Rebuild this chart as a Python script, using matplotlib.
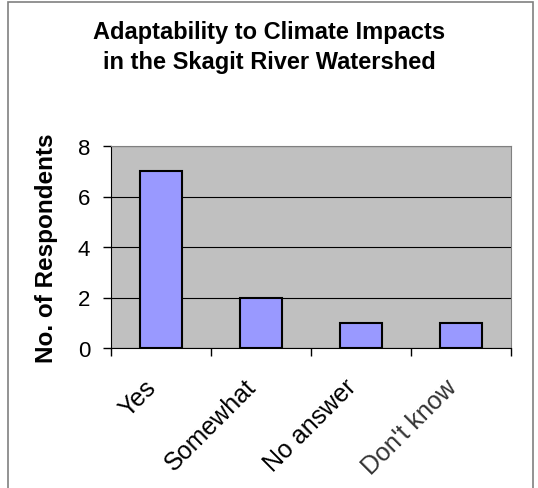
import matplotlib.pyplot as plt
import numpy as np

# survey responses
answers = ['Yes', 'Somewhat', 'No answer', "Don't know"]
respondents = [7, 2, 1, 1]
yticks = [0, 2, 4, 6, 8]

plt.rcParams['font.family'] = ['Liberation Sans', 'DejaVu Sans']

fig = plt.figure(figsize=(5.38, 4.89), dpi=100)

# outer chart frame
frame = plt.Rectangle((8 / 538, -0.01), 525 / 538, 1 - 3 / 489 + 0.01,
                      transform=fig.transFigure, fill=False,
                      edgecolor='#808080', linewidth=1.2)
fig.patches.append(frame)

ax = fig.add_axes([111 / 538, 1 - 349 / 489, 400 / 538, 202 / 489])
ax.set_facecolor('#C0C0C0')

x = np.arange(len(answers))
ax.bar(x, respondents, width=0.42, color='#9999FF', edgecolor='black',
       linewidth=1.5, zorder=3)

ax.set_xlim(-0.5, len(answers) - 0.5)
ax.set_ylim(0, 8)
ax.set_yticks(yticks)
ax.set_yticklabels([str(t) for t in yticks], fontsize=16)
ax.yaxis.grid(True, color='black', linewidth=0.8, zorder=1)

# ticks sit between the categories
ax.set_xticks(np.arange(-0.5, len(answers), 1.0))
ax.set_xticklabels([])
ax.tick_params(axis='x', length=6, width=1, color='black')
ax.tick_params(axis='y', length=6, width=1, color='black', pad=9)
for i, lab in enumerate(answers):
    ax.text(i - 0.17, -1.05, lab, rotation=45, ha='right', va='top',
            fontsize=18, rotation_mode='anchor', transform=ax.transData,
            color='#333333' if i == 3 else 'black')

for side in ['top', 'right']:
    ax.spines[side].set_color('#808080')
ax.spines['left'].set_color('black')
ax.spines['bottom'].set_color('black')

ax.set_ylabel('No. of Respondents', fontsize=17.5, fontweight='bold', labelpad=14)

fig.text(0.5, 1 - 39 / 489, 'Adaptability to Climate Impacts',
         ha='center', va='baseline', fontsize=17, fontweight='bold')
fig.text(0.5, 1 - 69 / 489, 'in the Skagit River Watershed',
         ha='center', va='baseline', fontsize=17, fontweight='bold')

fig.savefig('out.png', dpi=100)
